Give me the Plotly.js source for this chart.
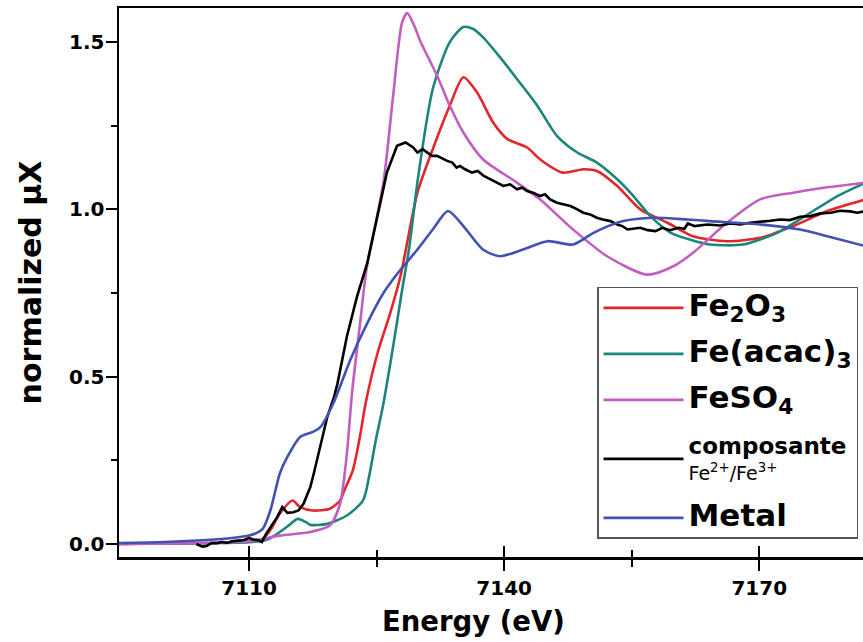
<!DOCTYPE html>
<html>
<head>
<meta charset="utf-8">
<script src="https://cdn.plot.ly/plotly-3.0.1.min.js"></script>
<style>html,body{margin:0;padding:0;background:#fff;}#chart{width:863px;height:642px;}</style>
</head>
<body>
<div id="chart"></div>
<script>
// ---- data (energy in eV, normalized absorption) ----
const seriesNames = ['Fe<sub>2</sub>O<sub>3</sub>', 'Fe(acac)<sub>3</sub>', 'FeSO<sub>4</sub>', 'composante<br>Fe<sup>2+</sup>/Fe<sup>3+</sup>', 'Metal'];

const eFe2O3 = [7094.7, 7105, 7110, 7111.3, 7112.0, 7112.6, 7113.6, 7115.1, 7116.0, 7117.5, 7119.5, 7120.7, 7121.2, 7122.2, 7123.1, 7123.7, 7125.1, 7126.6, 7127.8, 7129.8, 7131.6, 7133.6, 7135.2, 7136.8, 7138.7, 7140.4, 7142.7, 7144.2, 7146.9, 7149.3, 7150.9, 7153.3, 7156.0, 7159.2, 7162.2, 7166.2, 7170.1, 7174.0, 7178.0, 7182.5];
const muFe2O3 = [0.0, 0.003, 0.008, 0.012, 0.025, 0.045, 0.09, 0.13, 0.11, 0.10, 0.105, 0.13, 0.16, 0.22, 0.33, 0.42, 0.57, 0.69, 0.80, 1.05, 1.18, 1.31, 1.395, 1.35, 1.26, 1.21, 1.185, 1.15, 1.11, 1.12, 1.115, 1.07, 1.00, 0.96, 0.92, 0.905, 0.915, 0.95, 0.995, 1.03];

const eAcac = [7094.7, 7105, 7110, 7112.0, 7113.0, 7114.5, 7115.7, 7116.7, 7117.2, 7119.2, 7121.5, 7123.4, 7124.1, 7124.9, 7125.8, 7127.0, 7128.0, 7128.8, 7129.9, 7131.6, 7133.6, 7135.2, 7136.3, 7137.5, 7139.5, 7141.5, 7143.9, 7146.2, 7148.6, 7150.9, 7153.3, 7155.2, 7157.2, 7159.6, 7161.8, 7164.2, 7168.1, 7172.1, 7176.0, 7179.2, 7182.5];
const muAcac = [0.0, 0.002, 0.005, 0.012, 0.025, 0.052, 0.075, 0.065, 0.057, 0.06, 0.085, 0.13, 0.20, 0.31, 0.42, 0.60, 0.76, 0.88, 1.10, 1.36, 1.50, 1.545, 1.54, 1.515, 1.455, 1.39, 1.31, 1.22, 1.17, 1.14, 1.09, 1.04, 0.98, 0.93, 0.91, 0.895, 0.895, 0.93, 0.99, 1.04, 1.08];

const eFeSO4 = [7094.7, 7105, 7110, 7113.6, 7117.2, 7119.5, 7120.7, 7121.5, 7122.1, 7123.1, 7123.8, 7125.8, 7126.9, 7128.0, 7128.6, 7129.4, 7130.1, 7132.1, 7133.6, 7135.2, 7137.5, 7141.5, 7144.2, 7148.1, 7152.1, 7156.8, 7159.9, 7162.2, 7166.2, 7170.1, 7174.0, 7178.0, 7182.5];
const muFeSO4 = [0.0, 0.003, 0.008, 0.025, 0.036, 0.055, 0.12, 0.27, 0.45, 0.67, 0.82, 1.08, 1.33, 1.56, 1.587, 1.55, 1.505, 1.40, 1.31, 1.23, 1.15, 1.08, 1.03, 0.94, 0.86, 0.805, 0.83, 0.87, 0.96, 1.03, 1.05, 1.066, 1.08];

const eComp = [7103.8, 7104.5, 7105.0, 7105.6, 7106.2, 7106.8, 7107.4, 7108.0, 7108.7, 7109.4, 7110.0, 7110.5, 7111.0, 7111.5, 7112.0, 7112.5, 7113.3, 7113.9, 7114.5, 7115.2, 7115.8, 7116.4, 7117.2, 7117.6, 7118.4, 7119.2, 7120.0, 7120.4, 7121.5, 7122.7, 7123.9, 7125.1, 7126.2, 7127.4, 7128.4, 7129.3, 7129.8, 7130.4, 7130.9, 7131.5, 7132.1, 7132.8, 7133.3, 7133.9, 7134.4, 7134.8, 7135.4, 7136.2, 7136.9, 7137.6, 7138.4, 7139.2, 7139.9, 7140.7, 7141.5, 7142.1, 7142.7, 7143.4, 7144.2, 7144.8, 7145.4, 7146.2, 7146.9, 7147.8, 7148.6, 7149.3, 7150.1, 7150.9, 7151.6, 7152.5, 7153.3, 7153.9, 7154.5, 7155.1, 7156.0, 7156.9, 7157.8, 7158.6, 7159.5, 7160.5, 7161.2, 7161.6, 7162.4, 7163.9, 7165.4, 7166.6, 7167.8, 7168.9, 7170.1, 7171.3, 7172.5, 7173.6, 7174.8, 7176.0, 7177.2, 7178.4, 7179.5, 7180.7, 7181.5, 7182.5];
const muComp = [0.0, -0.008, -0.006, 0.003, 0.002, 0.006, 0.003, 0.008, 0.010, 0.012, 0.018, 0.013, 0.012, 0.006, 0.03, 0.05, 0.08, 0.11, 0.093, 0.095, 0.10, 0.12, 0.17, 0.21, 0.30, 0.38, 0.44, 0.48, 0.62, 0.74, 0.84, 0.98, 1.11, 1.19, 1.20, 1.185, 1.17, 1.18, 1.17, 1.16, 1.16, 1.15, 1.145, 1.14, 1.125, 1.13, 1.12, 1.11, 1.115, 1.10, 1.09, 1.08, 1.07, 1.075, 1.06, 1.065, 1.055, 1.05, 1.04, 1.045, 1.03, 1.02, 1.015, 1.01, 1.00, 0.99, 0.985, 0.975, 0.97, 0.965, 0.955, 0.95, 0.94, 0.942, 0.945, 0.938, 0.935, 0.945, 0.938, 0.945, 0.942, 0.958, 0.95, 0.955, 0.952, 0.958, 0.955, 0.96, 0.962, 0.966, 0.97, 0.968, 0.978, 0.98, 0.988, 0.99, 0.996, 0.994, 0.99, 0.995];

const eMetal = [7094.7, 7100, 7105, 7108, 7110, 7110.9, 7111.6, 7112.5, 7113.1, 7113.6, 7114.5, 7116.0, 7117.5, 7118.4, 7119.9, 7121.9, 7123.9, 7125.8, 7127.5, 7129.8, 7131.6, 7133.4, 7135.2, 7137.5, 7139.5, 7142.2, 7145.1, 7148.1, 7150.5, 7154.0, 7157.5, 7161.5, 7164.2, 7170.1, 7174.8, 7178.0, 7182.5];
const muMetal = [0.003, 0.006, 0.012, 0.018, 0.025, 0.033, 0.045, 0.10, 0.16, 0.21, 0.26, 0.32, 0.335, 0.35, 0.42, 0.55, 0.66, 0.75, 0.81, 0.88, 0.94, 0.995, 0.95, 0.88, 0.86, 0.88, 0.905, 0.895, 0.93, 0.965, 0.975, 0.97, 0.965, 0.955, 0.94, 0.92, 0.89];

const xTicks = [7110, 7140, 7170];
const xMinorTicks = [7125, 7155];
const yTicks = [0, 0.5, 1.0, 1.5];
const yTickLabels = ['0.0', '0.5', '1.0', '1.5'];
const xTitle = 'Energy (eV)';
const yTitle = 'normalized µX';

const colors = ['#e4262c', '#1c867b', '#c25dc2', '#000000', '#4352b2'];

// ---- traces ----
const big = s => '<span style="font-size:31px;font-weight:bold">' + s + '</span>';
const legendLabels = [
  big(seriesNames[0]),
  big(seriesNames[1]),
  big(seriesNames[2]),
  '<span style="font-size:23px;font-weight:bold">composante</span><br><span style="font-size:19px">Fe<sup>2+</sup>/Fe<sup>3+</sup></span>',
  big(seriesNames[4])
];
const xs = [eFe2O3, eAcac, eFeSO4, eComp, eMetal];
const ys = [muFe2O3, muAcac, muFeSO4, muComp, muMetal];
const traces = xs.map((x, i) => ({
  x: x, y: ys[i], type: 'scatter', mode: 'lines',
  name: legendLabels[i], legendgroup: 'g' + i,
  line: {color: colors[i], width: 2.6, shape: i === 3 ? 'linear' : 'spline', smoothing: 0.7}
}));
// empty trace to carry the inside half of the crossing x ticks
traces.push({x: [], y: [], xaxis: 'x2', showlegend: false, hoverinfo: 'skip'});

const fontFam = 'DejaVu Sans, Arial, sans-serif';
const xRange = [7094.7, 7182.2];
const layout = {
  width: 863, height: 642,
  margin: {l: 119, r: 0, t: 8, b: 85},
  paper_bgcolor: '#ffffff', plot_bgcolor: '#ffffff',
  font: {family: fontFam, color: '#000'},
  showlegend: true,
  xaxis: {
    range: xRange, showgrid: false, zeroline: false,
    showline: true, linecolor: '#000', linewidth: 2.5, mirror: true,
    ticks: 'outside', ticklen: 11, tickwidth: 2, tickcolor: '#000',
    tickmode: 'array', tickvals: xTicks,
    minor: {tickmode: 'array', tickvals: xMinorTicks, ticks: 'outside', ticklen: 7, tickwidth: 2, tickcolor: '#000', showgrid: false},
    tickfont: {size: 20, weight: 'bold', family: fontFam}
  },
  xaxis2: {
    range: xRange, overlaying: 'x', anchor: 'y', side: 'bottom',
    showgrid: false, zeroline: false, showline: false, showticklabels: false,
    ticks: 'inside', ticklen: 11, tickwidth: 2, tickcolor: '#000',
    tickmode: 'array', tickvals: xTicks,
    minor: {tickmode: 'array', tickvals: xMinorTicks, ticks: 'inside', ticklen: 7, tickwidth: 2, tickcolor: '#000', showgrid: false}
  },
  yaxis: {
    range: [-0.039, 1.602], showgrid: false, zeroline: false,
    showline: true, linecolor: '#000', linewidth: 2.5, mirror: false,
    ticks: 'outside', ticklen: 11, tickwidth: 2, tickcolor: '#000',
    tickmode: 'array', tickvals: yTicks, ticktext: yTickLabels,
    ticklabelstandoff: -3,
    minor: {dtick: 0.25, tick0: 0, ticks: 'outside', ticklen: 6, tickwidth: 2, tickcolor: '#000', showgrid: false},
    tickfont: {size: 20, weight: 'bold', family: fontFam},
    title: {text: yTitle, font: {size: 30, weight: 'bold', family: fontFam}, standoff: 19}
  },
  annotations: [{
    text: xTitle, xref: 'paper', yref: 'paper', x: 0.476, y: -0.1166,
    xanchor: 'center', yanchor: 'middle', showarrow: false,
    font: {size: 27.5, weight: 'bold', family: fontFam, color: '#000'}
  }],
  legend: {
    x: 0.6425, xanchor: 'left', y: 0.492, yanchor: 'top',
    bgcolor: '#ffffff', bordercolor: '#555', borderwidth: 1.5,
    font: {size: 20, family: fontFam, color: '#000'},
    traceorder: 'grouped', tracegroupgap: 17, itemwidth: 80,
    valign: 'middle'
  }
};

Plotly.newPlot('chart', traces, layout, {displayModeBar: false, staticPlot: true});
</script>
</body>
</html>
